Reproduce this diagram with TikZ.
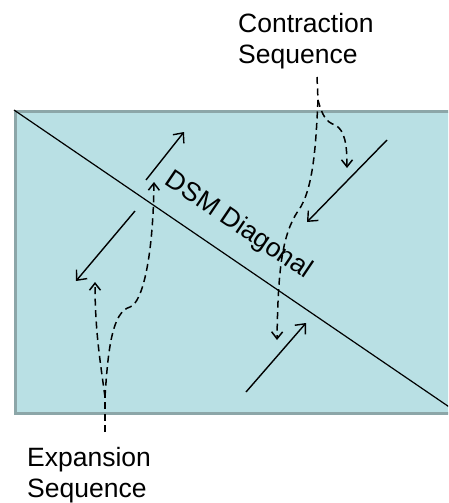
\documentclass[tikz,border=0pt]{standalone}
\usepackage{fontspec}
\setmainfont{Liberation Sans}
\usetikzlibrary{arrows.meta}
\definecolor{dsmfill}{RGB}{185,224,228}
\definecolor{dsmborder}{RGB}{140,166,168}
\begin{document}
\begin{tikzpicture}[x=1pt,y=-1pt,
  lbl/.style={font=\fontsize{26.5}{31.5}\selectfont, align=left, inner sep=0pt, anchor=north west},
  solidarrow/.style={line width=1.4pt, -{Straight Barb[length=8pt,width=14pt]}},
  dasharrow/.style={line width=1.5pt, dash pattern=on 7pt off 4.5pt, -{Straight Barb[length=7pt,width=11pt]}},
  dashline/.style={line width=1.5pt, dash pattern=on 7pt off 4.5pt},
]
\clip (0,0) rectangle (448,503);
\fill[white] (0,0) rectangle (448,503);
% DSM area
\node[draw=dsmborder, fill=dsmfill, line width=3pt, inner sep=0pt,
      minimum width=444pt, minimum height=302pt, anchor=north west] (dsm) at (14,110) {};
\draw[line width=1.2pt] (dsm.north west) -- (dsm.south east);
\node[font=\fontsize{26.5}{31.5}\selectfont, inner sep=0pt, anchor=base, rotate=-34] (diag) at (234.5,231.5) {DSM Diagonal};
% labels
\node[lbl] (con) at (238,13) {Contraction\\Sequence};
\node[lbl] (exp) at (27,447) {Expansion\\Sequence};
% solid arrows
\coordinate (a1s) at (146,180); \coordinate (a1e) at (184,132);
\coordinate (a2s) at (135,211); \coordinate (a2e) at (76,281);
\coordinate (a3s) at (387,140); \coordinate (a3e) at (307,222);
\coordinate (a4s) at (246,392); \coordinate (a4e) at (306,323);
\draw[solidarrow] (a1s) -- (a1e);
\draw[solidarrow] (a2s) -- (a2e);
\draw[solidarrow] (a3s) -- (a3e);
\draw[solidarrow] (a4s) -- (a4e);
% expansion sequence
\coordinate (e0) at (105,432);
\coordinate (eb) at (105,397);
\coordinate (el) at (95,282);
\coordinate (eh) at (130,307);
\coordinate (er) at (154,182);
\draw[dashline] (e0) -- (eb);
\draw[dasharrow] (eb) .. controls (100,360) and (95,330) .. (el);
\draw[dasharrow] (eb) .. controls (108,350) and (112,312) .. (eh) .. controls (142,303) and (153,260) .. (er);
% contraction sequence
\coordinate (c0) at (317,77);
\coordinate (cb) at (318,100);
\coordinate (ch) at (335,125);
\coordinate (cr) at (347,168);
\coordinate (cl) at (298,211);
\coordinate (ce) at (277,340);
\draw[dashline] (c0) -- (cb);
\draw[dasharrow] (cb) .. controls (322,115) and (326,122) .. (ch) .. controls (345,130) and (347,145) .. (cr);
\draw[dasharrow] (cb) .. controls (316,140) and (314,190) .. (cl) .. controls (282,235) and (278,270) .. (ce);
\end{tikzpicture}
\end{document}
